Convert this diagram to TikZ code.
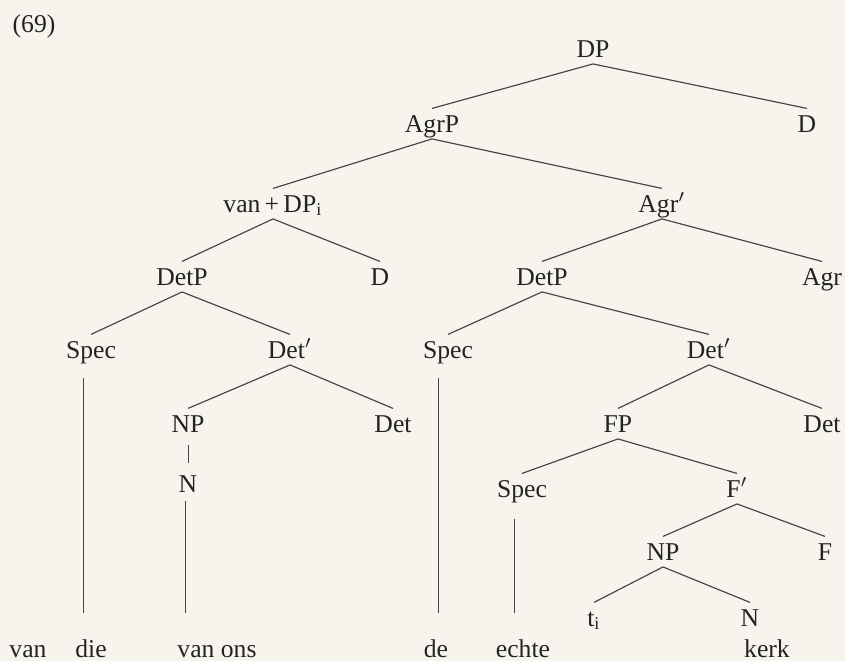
\documentclass[tikz,border=0pt]{standalone}
\usepackage{fontspec}
\setmainfont{Liberation Serif}
\definecolor{paper}{RGB}{246,244,237}
\definecolor{ink}{RGB}{35,35,35}

\begin{document}
\begin{tikzpicture}[x=0.39pt, y=-0.39pt,
    cat/.style={anchor=base, inner sep=2pt, text height=0.7em, text depth=0.05em, text=ink},
    branch/.style={draw=ink!85, line width=0.45pt}]
    % Page and example number
    \fill[paper] (0,0) rectangle (845,661);
    \useasboundingbox (0,0) rectangle (845,661);
    \node[cat, anchor=base west] (num) at (7,32) {(69)};

    % Upper part of the tree
    \node[cat] (dp) at (593,57) {DP};
    \node[cat] (agrp) at (432,132) {AgrP};
    \node[cat] (dtop) at (807,132) {D};
    \node[cat] (vandp) at (273,212) {van\,+\,DP\textsubscript{i}};
    \node[cat] (agrbar) at (662,212) {Agr$'$};
    \node[cat] (detpL) at (182,285) {DetP};
    \node[cat] (dL) at (380,285) {D};
    \node[cat] (detpR) at (542,285) {DetP};
    \node[cat] (agr) at (822,285) {Agr};

    % Left DetP
    \node[cat] (specL) at (91,358) {Spec};
    \node[cat] (detbarL) at (290,358) {Det$'$};
    \node[cat] (npL) at (188,432) {NP};
    \node[cat] (detL) at (393,432) {Det};
    \node[cat] (nL) at (188,492) {N};

    % Right DetP
    \node[cat] (specM) at (448,358) {Spec};
    \node[cat] (detbarR) at (709,358) {Det$'$};
    \node[cat] (fp) at (618,432) {FP};
    \node[cat] (detR) at (822,432) {Det};
    \node[cat] (specR) at (522,497) {Spec};
    \node[cat] (fbar) at (737,497) {F$'$};
    \node[cat] (npR) at (663,560) {NP};
    \node[cat] (f) at (825,560) {F};
    \node[cat] (trace) at (594,626) {t\textsubscript{i}};
    \node[cat] (nR) at (750,626) {N};

    % Words
    \node[cat] (wvan) at (28,657) {van};
    \node[cat] (wdie) at (91,657) {die};
    \node[cat] (wvanons) at (217,657) {van ons};
    \node[cat] (wde) at (436,657) {de};
    \node[cat] (wechte) at (523,657) {echte};
    \node[cat] (wkerk) at (767,657) {kerk};

    % Branches
    \draw[branch] (dp.south) -- (agrp.north);
    \draw[branch] (dp.south) -- (dtop.north);
    \draw[branch] (agrp.south) -- (vandp.north);
    \draw[branch] (agrp.south) -- (agrbar.north);
    \draw[branch] (vandp.south) -- (detpL.north);
    \draw[branch] (vandp.south) -- (dL.north);
    \draw[branch] (agrbar.south) -- (detpR.north);
    \draw[branch] (agrbar.south) -- (agr.north);
    \draw[branch] (detpL.south) -- (specL.north);
    \draw[branch] (detpL.south) -- (detbarL.north);
    \draw[branch] (detbarL.south) -- (npL.north);
    \draw[branch] (detbarL.south) -- (detL.north);
    \draw[branch, shorten <=2.5pt, shorten >=2pt] ([xshift=0.2pt]npL.south) -- ([xshift=0.2pt]nL.north);
    \draw[branch] (detpR.south) -- (specM.north);
    \draw[branch] (detpR.south) -- (detbarR.north);
    \draw[branch] (detbarR.south) -- (fp.north);
    \draw[branch] (detbarR.south) -- (detR.north);
    \draw[branch] (fp.south) -- (specR.north);
    \draw[branch] (fp.south) -- (fbar.north);
    \draw[branch] (fbar.south) -- (npR.north);
    \draw[branch] (fbar.south) -- (f.north);
    \draw[branch] (npR.south) -- (trace.north);
    \draw[branch] (npR.south) -- (nR.north);

    % Stems down to the words
    \draw[branch, shorten <=5pt, shorten >=8pt] ([xshift=-3pt]specL.south) -- ([xshift=-3pt]specL.south |- wdie.north);
    \draw[branch, shorten <=1pt, shorten >=8pt] ([xshift=-1pt]nL.south) -- ([xshift=-1pt]nL.south |- wvanons.north);
    \draw[branch, shorten <=5pt, shorten >=8pt] ([xshift=-3.7pt]specM.south) -- ([xshift=-3.7pt]specM.south |- wde.north);
    \draw[branch, shorten <=6pt, shorten >=8pt] ([xshift=-3pt]specR.south) -- ([xshift=-3pt]specR.south |- wechte.north);
\end{tikzpicture}
\end{document}
